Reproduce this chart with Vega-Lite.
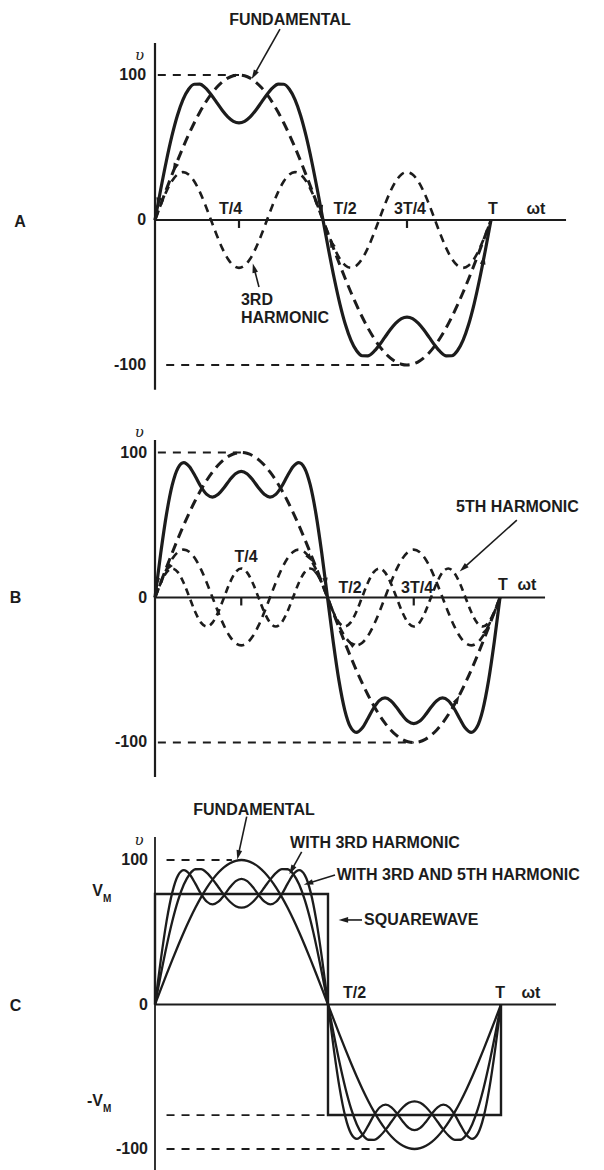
{
"$schema":"https://vega.github.io/schema/vega-lite/v6.json",
"padding":0,"spacing":0,"bounds":"flush","background":"white",
"config":{"view":{"stroke":null}},
"datasets":{
"wave":[
{"d":0,"f":0,"h3":0,"h5":0,"s3":0,"s35":0},
{"d":6,"f":10.45,"h3":10.2,"h5":10,"s3":20.65,"s35":30.65},
{"d":12,"f":20.79,"h3":19.4,"h5":17.32,"s3":40.19,"s35":57.51},
{"d":18,"f":30.9,"h3":26.7,"h5":20,"s3":57.6,"s35":77.6},
{"d":24,"f":40.67,"h3":31.39,"h5":17.32,"s3":72.06,"s35":89.38},
{"d":30,"f":50,"h3":33,"h5":10,"s3":83,"s35":93},
{"d":36,"f":58.78,"h3":31.39,"h5":0,"s3":90.17,"s35":90.17},
{"d":42,"f":66.91,"h3":26.7,"h5":-10,"s3":93.61,"s35":83.61},
{"d":48,"f":74.31,"h3":19.4,"h5":-17.32,"s3":93.71,"s35":76.39},
{"d":54,"f":80.9,"h3":10.2,"h5":-20,"s3":91.1,"s35":71.1},
{"d":60,"f":86.6,"h3":0,"h5":-17.32,"s3":86.6,"s35":69.28},
{"d":66,"f":91.35,"h3":-10.2,"h5":-10,"s3":81.15,"s35":71.15},
{"d":72,"f":95.11,"h3":-19.4,"h5":0,"s3":75.71,"s35":75.71},
{"d":78,"f":97.81,"h3":-26.7,"h5":10,"s3":71.11,"s35":81.11},
{"d":84,"f":99.45,"h3":-31.39,"h5":17.32,"s3":68.06,"s35":85.38},
{"d":90,"f":100,"h3":-33,"h5":20,"s3":67,"s35":87},
{"d":96,"f":99.45,"h3":-31.39,"h5":17.32,"s3":68.06,"s35":85.38},
{"d":102,"f":97.81,"h3":-26.7,"h5":10,"s3":71.11,"s35":81.11},
{"d":108,"f":95.11,"h3":-19.4,"h5":0,"s3":75.71,"s35":75.71},
{"d":114,"f":91.35,"h3":-10.2,"h5":-10,"s3":81.15,"s35":71.15},
{"d":120,"f":86.6,"h3":0,"h5":-17.32,"s3":86.6,"s35":69.28},
{"d":126,"f":80.9,"h3":10.2,"h5":-20,"s3":91.1,"s35":71.1},
{"d":132,"f":74.31,"h3":19.4,"h5":-17.32,"s3":93.71,"s35":76.39},
{"d":138,"f":66.91,"h3":26.7,"h5":-10,"s3":93.61,"s35":83.61},
{"d":144,"f":58.78,"h3":31.39,"h5":0,"s3":90.17,"s35":90.17},
{"d":150,"f":50,"h3":33,"h5":10,"s3":83,"s35":93},
{"d":156,"f":40.67,"h3":31.39,"h5":17.32,"s3":72.06,"s35":89.38},
{"d":162,"f":30.9,"h3":26.7,"h5":20,"s3":57.6,"s35":77.6},
{"d":168,"f":20.79,"h3":19.4,"h5":17.32,"s3":40.19,"s35":57.51},
{"d":174,"f":10.45,"h3":10.2,"h5":10,"s3":20.65,"s35":30.65},
{"d":180,"f":0,"h3":0,"h5":0,"s3":0,"s35":0},
{"d":186,"f":-10.45,"h3":-10.2,"h5":-10,"s3":-20.65,"s35":-30.65},
{"d":192,"f":-20.79,"h3":-19.4,"h5":-17.32,"s3":-40.19,"s35":-57.51},
{"d":198,"f":-30.9,"h3":-26.7,"h5":-20,"s3":-57.6,"s35":-77.6},
{"d":204,"f":-40.67,"h3":-31.39,"h5":-17.32,"s3":-72.06,"s35":-89.38},
{"d":210,"f":-50,"h3":-33,"h5":-10,"s3":-83,"s35":-93},
{"d":216,"f":-58.78,"h3":-31.39,"h5":0,"s3":-90.17,"s35":-90.17},
{"d":222,"f":-66.91,"h3":-26.7,"h5":10,"s3":-93.61,"s35":-83.61},
{"d":228,"f":-74.31,"h3":-19.4,"h5":17.32,"s3":-93.71,"s35":-76.39},
{"d":234,"f":-80.9,"h3":-10.2,"h5":20,"s3":-91.1,"s35":-71.1},
{"d":240,"f":-86.6,"h3":0,"h5":17.32,"s3":-86.6,"s35":-69.28},
{"d":246,"f":-91.35,"h3":10.2,"h5":10,"s3":-81.15,"s35":-71.15},
{"d":252,"f":-95.11,"h3":19.4,"h5":0,"s3":-75.71,"s35":-75.71},
{"d":258,"f":-97.81,"h3":26.7,"h5":-10,"s3":-71.11,"s35":-81.11},
{"d":264,"f":-99.45,"h3":31.39,"h5":-17.32,"s3":-68.06,"s35":-85.38},
{"d":270,"f":-100,"h3":33,"h5":-20,"s3":-67,"s35":-87},
{"d":276,"f":-99.45,"h3":31.39,"h5":-17.32,"s3":-68.06,"s35":-85.38},
{"d":282,"f":-97.81,"h3":26.7,"h5":-10,"s3":-71.11,"s35":-81.11},
{"d":288,"f":-95.11,"h3":19.4,"h5":0,"s3":-75.71,"s35":-75.71},
{"d":294,"f":-91.35,"h3":10.2,"h5":10,"s3":-81.15,"s35":-71.15},
{"d":300,"f":-86.6,"h3":0,"h5":17.32,"s3":-86.6,"s35":-69.28},
{"d":306,"f":-80.9,"h3":-10.2,"h5":20,"s3":-91.1,"s35":-71.1},
{"d":312,"f":-74.31,"h3":-19.4,"h5":17.32,"s3":-93.71,"s35":-76.39},
{"d":318,"f":-66.91,"h3":-26.7,"h5":10,"s3":-93.61,"s35":-83.61},
{"d":324,"f":-58.78,"h3":-31.39,"h5":0,"s3":-90.17,"s35":-90.17},
{"d":330,"f":-50,"h3":-33,"h5":-10,"s3":-83,"s35":-93},
{"d":336,"f":-40.67,"h3":-31.39,"h5":-17.32,"s3":-72.06,"s35":-89.38},
{"d":342,"f":-30.9,"h3":-26.7,"h5":-20,"s3":-57.6,"s35":-77.6},
{"d":348,"f":-20.79,"h3":-19.4,"h5":-17.32,"s3":-40.19,"s35":-57.51},
{"d":354,"f":-10.45,"h3":-10.2,"h5":-10,"s3":-20.65,"s35":-30.65},
{"d":360,"f":0,"h3":0,"h5":0,"s3":0,"s35":0}
],
"sq":[{"d":0,"v":0,"o":0},{"d":0,"v":76.5,"o":1},{"d":180,"v":76.5,"o":2},{"d":180,"v":-76.5,"o":3},{"d":360,"v":-76.5,"o":4},{"d":360,"v":0,"o":5}],
"ups":[{"d":-16.5,"v":114,"txt":"υ"}],
"axA":[{"d":0,"v":122,"d2":0,"v2":-117},{"d":0,"v":0,"d2":440.4,"v2":0},{"d":90,"v":0,"d2":90,"v2":-5.5},{"d":270,"v":0,"d2":270,"v2":-5.5}],
"refA":[{"d":3,"d2":90,"v":100},{"d":12,"d2":270,"v":-100}],
"labA":[{"d":144.6,"v":137.9,"txt":"FUNDAMENTAL"},{"d":81,"v":7.6,"txt":"T/4"},{"d":203.6,"v":7.6,"txt":"T/2"},{"d":273.2,"v":7.6,"txt":"3T/4"},{"d":362.1,"v":7.6,"txt":"T"},{"d":408.2,"v":7.6,"txt":"ωt"},{"d":-144.6,"v":-1.4,"txt":"A"}],
"leftA":[{"d":92.1,"v":-55.2,"txt":"3RD"},{"d":92.1,"v":-67.8,"txt":"HARMONIC"}],
"numA":[{"d":-9.6,"v":100,"txt":"100"},{"d":-9.6,"v":0,"txt":"0"},{"d":-9.6,"v":-100,"txt":"-100"}],
"arrA":[{"d":133.9,"v":131.7,"d2":106.1,"v2":100,"ang":209.5},{"d":111.4,"v":-46.2,"d2":106.1,"v2":-33.1,"ang":345.3}],
"chA":[{"d":3.5,"v":12.1,"ang":190.5},{"d":21,"v":35.8,"ang":202},{"d":178,"v":6.9,"ang":169.5},{"d":189,"v":-15.6,"ang":339.5},{"d":352,"v":-27.3,"ang":10.5}],
"axB":[{"d":0,"v":108.6,"d2":0,"v2":-123.8},{"d":0,"v":0,"d2":407,"v2":0},{"d":90,"v":0,"d2":90,"v2":-5.5},{"d":270,"v":0,"d2":270,"v2":-5.5}],
"refB":[{"d":3,"d2":90,"v":100},{"d":3,"d2":270,"v":-100}],
"labB":[{"d":95,"v":28.1,"txt":"T/4"},{"d":203.5,"v":6.3,"txt":"T/2"},{"d":273.4,"v":6.3,"txt":"3T/4"},{"d":363.1,"v":8.6,"txt":"T"},{"d":388.2,"v":8.6,"txt":"ωt"},{"d":378.2,"v":62.6,"txt":"5TH HARMONIC"},{"d":-145.6,"v":0,"txt":"B"}],
"numB":[{"d":-8.3,"v":100,"txt":"100"},{"d":-8.3,"v":0,"txt":"0"},{"d":-8.3,"v":-100,"txt":"-100"}],
"arrB":[{"d":377.6,"v":53.4,"d2":321.6,"v2":20.1,"ang":228.3}],
"chB":[{"d":2,"v":10.4,"ang":187},{"d":13.6,"v":20.3,"ang":215},{"d":161.7,"v":27,"ang":146},{"d":170,"v":15.3,"ang":160},{"d":178,"v":10.4,"ang":172},{"d":204,"v":-31.4,"ang":309},{"d":315.5,"v":-70.1,"ang":28},{"d":345.8,"v":-22.3,"ang":27.5}],
"axC":[{"d":0,"v":115.9,"d2":0,"v2":-114.5},{"d":0,"v":0,"d2":417.2,"v2":0}],
"refC":[{"d":12,"d2":80,"v":100},{"d":12,"d2":180,"v":-76.5},{"d":12,"d2":245,"v":-100}],
"labC":[{"d":103,"v":134.7,"txt":"FUNDAMENTAL"},{"d":228.9,"v":111.6,"txt":"WITH 3RD HARMONIC"},{"d":207.6,"v":8,"txt":"T/2"},{"d":359,"v":8,"txt":"T"},{"d":391.2,"v":8,"txt":"ωt"},{"d":-145.1,"v":-1,"txt":"C"}],
"leftC":[{"d":189.1,"v":89.6,"txt":"WITH 3RD AND 5TH HARMONIC"},{"d":217.5,"v":58.5,"txt":"SQUAREWAVE"}],
"numC":[{"d":-7.3,"v":100,"txt":"100"},{"d":-7.3,"v":0,"txt":"0"},{"d":-7.3,"v":-100,"txt":"-100"},{"d":-54.1,"v":78.5,"txt":"V"},{"d":-54.1,"v":-66.8,"txt":"-V"}],
"subC":[{"d":-54.1,"v":73,"txt":"M"},{"d":-54.1,"v":-72,"txt":"M"}],
"arrC":[{"d":95.4,"v":130,"d2":86.7,"v2":103.5,"ang":192.4},{"d":152.6,"v":105.7,"d2":142.2,"v2":93.1,"ang":208.7},{"d":187.3,"v":89.6,"d2":159.5,"v2":83.9,"ang":252.7},{"d":215.4,"v":58.5,"d2":196,"v2":58.5,"ang":270}]
},
"vconcat":[
{
"width":604,"height":400,
"encoding":{"x":{"field":"d","type":"quantitative","scale":{"domain":[-166.07,481.07],"nice":false,"zero":false},"axis":null},"y":{"field":"v","type":"quantitative","scale":{"domain":[-124.14,151.72],"nice":false,"zero":false},"axis":null}},
"layer":[
{"data":{"name":"axA"},"mark":{"type":"rule","strokeWidth":2.2,"color":"#1c1c1c"},"encoding":{"x2":{"field":"d2"},"y2":{"field":"v2"}}},
{"data":{"name":"refA"},"mark":{"type":"rule","strokeWidth":1.8,"strokeDash":[8,7],"color":"#1c1c1c"},"encoding":{"x2":{"field":"d2"}}},
{"data":{"name":"wave"},"mark":{"type":"line","interpolate":"monotone","strokeWidth":3,"strokeDash":[10,6],"color":"#1c1c1c"},"encoding":{"y":{"field":"f","type":"quantitative","scale":{"domain":[-124.14,151.72],"nice":false,"zero":false},"axis":null}}},
{"data":{"name":"wave"},"mark":{"type":"line","interpolate":"monotone","strokeWidth":2.6,"strokeDash":[8,6],"color":"#1c1c1c"},"encoding":{"y":{"field":"h3","type":"quantitative","scale":{"domain":[-124.14,151.72],"nice":false,"zero":false},"axis":null}}},
{"data":{"name":"wave"},"mark":{"type":"line","interpolate":"monotone","strokeWidth":3.2,"color":"#1c1c1c"},"encoding":{"y":{"field":"s3","type":"quantitative","scale":{"domain":[-124.14,151.72],"nice":false,"zero":false},"axis":null}}},
{"data":{"name":"labA"},"mark":{"type":"text","font":"Liberation Sans","fontWeight":"bold","fontSize":16,"align":"center","baseline":"middle","color":"#1c1c1c"},"encoding":{"text":{"field":"txt"}}},
{"data":{"name":"leftA"},"mark":{"type":"text","font":"Liberation Sans","fontWeight":"bold","fontSize":16,"align":"left","baseline":"middle","color":"#1c1c1c"},"encoding":{"text":{"field":"txt"}}},
{"data":{"name":"numA"},"mark":{"type":"text","font":"Liberation Sans","fontWeight":"bold","fontSize":16,"align":"right","baseline":"middle","color":"#1c1c1c"},"encoding":{"text":{"field":"txt"}}},
{"data":{"name":"ups"},"mark":{"type":"text","font":"DejaVu Serif","fontStyle":"italic","fontSize":15,"align":"center","baseline":"middle","color":"#1c1c1c"},"encoding":{"text":{"field":"txt"}}},
{"data":{"name":"arrA"},"mark":{"type":"rule","strokeWidth":1.6,"color":"#1c1c1c"},"encoding":{"x2":{"field":"d2"},"y2":{"field":"v2"}}},
{"data":{"name":"arrA"},"mark":{"type":"point","shape":"M0,-1L0.6,1L-0.6,1Z","filled":true,"opacity":1,"size":90,"color":"#1c1c1c"},"encoding":{"x":{"field":"d2","type":"quantitative","scale":{"domain":[-166.07,481.07],"nice":false,"zero":false},"axis":null},"y":{"field":"v2","type":"quantitative","scale":{"domain":[-124.14,151.72],"nice":false,"zero":false},"axis":null},"angle":{"field":"ang","type":"quantitative","scale":null}}},
{"data":{"name":"chA"},"mark":{"type":"point","shape":"M0,-1L0.6,1L-0.6,1Z","filled":true,"opacity":1,"size":90,"color":"#1c1c1c"},"encoding":{"angle":{"field":"ang","type":"quantitative","scale":null}}}
]
},
{
"width":604,"height":390,
"encoding":{"x":{"field":"d","type":"quantitative","scale":{"domain":[-161.74,468.52],"nice":false,"zero":false},"axis":null},"y":{"field":"v","type":"quantitative","scale":{"domain":[-132.76,136.21],"nice":false,"zero":false},"axis":null}},
"layer":[
{"data":{"name":"axB"},"mark":{"type":"rule","strokeWidth":2.2,"color":"#1c1c1c"},"encoding":{"x2":{"field":"d2"},"y2":{"field":"v2"}}},
{"data":{"name":"refB"},"mark":{"type":"rule","strokeWidth":1.8,"strokeDash":[8,7],"color":"#1c1c1c"},"encoding":{"x2":{"field":"d2"}}},
{"data":{"name":"wave"},"mark":{"type":"line","interpolate":"monotone","strokeWidth":3,"strokeDash":[10,6],"color":"#1c1c1c"},"encoding":{"y":{"field":"f","type":"quantitative","scale":{"domain":[-132.76,136.21],"nice":false,"zero":false},"axis":null}}},
{"data":{"name":"wave"},"mark":{"type":"line","interpolate":"monotone","strokeWidth":2.6,"strokeDash":[8,6],"color":"#1c1c1c"},"encoding":{"y":{"field":"h3","type":"quantitative","scale":{"domain":[-132.76,136.21],"nice":false,"zero":false},"axis":null}}},
{"data":{"name":"wave"},"mark":{"type":"line","interpolate":"monotone","strokeWidth":2.6,"strokeDash":[7,5],"color":"#1c1c1c"},"encoding":{"y":{"field":"h5","type":"quantitative","scale":{"domain":[-132.76,136.21],"nice":false,"zero":false},"axis":null}}},
{"data":{"name":"wave"},"mark":{"type":"line","interpolate":"monotone","strokeWidth":3.2,"color":"#1c1c1c"},"encoding":{"y":{"field":"s35","type":"quantitative","scale":{"domain":[-132.76,136.21],"nice":false,"zero":false},"axis":null}}},
{"data":{"name":"labB"},"mark":{"type":"text","font":"Liberation Sans","fontWeight":"bold","fontSize":16,"align":"center","baseline":"middle","color":"#1c1c1c"},"encoding":{"text":{"field":"txt"}}},
{"data":{"name":"numB"},"mark":{"type":"text","font":"Liberation Sans","fontWeight":"bold","fontSize":16,"align":"right","baseline":"middle","color":"#1c1c1c"},"encoding":{"text":{"field":"txt"}}},
{"data":{"name":"ups"},"mark":{"type":"text","font":"DejaVu Serif","fontStyle":"italic","fontSize":15,"align":"center","baseline":"middle","color":"#1c1c1c"},"encoding":{"text":{"field":"txt"}}},
{"data":{"name":"arrB"},"mark":{"type":"rule","strokeWidth":1.6,"color":"#1c1c1c"},"encoding":{"x2":{"field":"d2"},"y2":{"field":"v2"}}},
{"data":{"name":"arrB"},"mark":{"type":"point","shape":"M0,-1L0.6,1L-0.6,1Z","filled":true,"opacity":1,"size":90,"color":"#1c1c1c"},"encoding":{"x":{"field":"d2","type":"quantitative","scale":{"domain":[-161.74,468.52],"nice":false,"zero":false},"axis":null},"y":{"field":"v2","type":"quantitative","scale":{"domain":[-132.76,136.21],"nice":false,"zero":false},"axis":null},"angle":{"field":"ang","type":"quantitative","scale":null}}},
{"data":{"name":"chB"},"mark":{"type":"point","shape":"M0,-1L0.6,1L-0.6,1Z","filled":true,"opacity":1,"size":80,"color":"#1c1c1c"},"encoding":{"angle":{"field":"ang","type":"quantitative","scale":null}}}
]
},
{
"width":604,"height":380,
"encoding":{"x":{"field":"d","type":"quantitative","scale":{"domain":[-161.27,467.17],"nice":false,"zero":false},"axis":null},"y":{"field":"v","type":"quantitative","scale":{"domain":[-114.53,148.44],"nice":false,"zero":false},"axis":null}},
"layer":[
{"data":{"name":"axC"},"mark":{"type":"rule","strokeWidth":1.8,"color":"#1c1c1c"},"encoding":{"x2":{"field":"d2"},"y2":{"field":"v2"}}},
{"data":{"name":"refC"},"mark":{"type":"rule","strokeWidth":1.8,"strokeDash":[8,7],"color":"#1c1c1c"},"encoding":{"x2":{"field":"d2"}}},
{"data":{"name":"sq"},"mark":{"type":"line","strokeWidth":2.4,"color":"#1c1c1c"},"encoding":{"order":{"field":"o","type":"quantitative"}}},
{"data":{"name":"wave"},"mark":{"type":"line","interpolate":"monotone","strokeWidth":2.3,"color":"#1c1c1c"},"encoding":{"y":{"field":"f","type":"quantitative","scale":{"domain":[-114.53,148.44],"nice":false,"zero":false},"axis":null}}},
{"data":{"name":"wave"},"mark":{"type":"line","interpolate":"monotone","strokeWidth":2.3,"color":"#1c1c1c"},"encoding":{"y":{"field":"s3","type":"quantitative","scale":{"domain":[-114.53,148.44],"nice":false,"zero":false},"axis":null}}},
{"data":{"name":"wave"},"mark":{"type":"line","interpolate":"monotone","strokeWidth":2.3,"color":"#1c1c1c"},"encoding":{"y":{"field":"s35","type":"quantitative","scale":{"domain":[-114.53,148.44],"nice":false,"zero":false},"axis":null}}},
{"data":{"name":"labC"},"mark":{"type":"text","font":"Liberation Sans","fontWeight":"bold","fontSize":16,"align":"center","baseline":"middle","color":"#1c1c1c"},"encoding":{"text":{"field":"txt"}}},
{"data":{"name":"leftC"},"mark":{"type":"text","font":"Liberation Sans","fontWeight":"bold","fontSize":16,"align":"left","baseline":"middle","color":"#1c1c1c"},"encoding":{"text":{"field":"txt"}}},
{"data":{"name":"numC"},"mark":{"type":"text","font":"Liberation Sans","fontWeight":"bold","fontSize":16,"align":"right","baseline":"middle","color":"#1c1c1c"},"encoding":{"text":{"field":"txt"}}},
{"data":{"name":"subC"},"mark":{"type":"text","font":"Liberation Sans","fontWeight":"bold","fontSize":10,"align":"left","baseline":"middle","color":"#1c1c1c"},"encoding":{"text":{"field":"txt"}}},
{"data":{"name":"ups"},"mark":{"type":"text","font":"DejaVu Serif","fontStyle":"italic","fontSize":15,"align":"center","baseline":"middle","color":"#1c1c1c"},"encoding":{"text":{"field":"txt"}}},
{"data":{"name":"arrC"},"mark":{"type":"rule","strokeWidth":1.6,"color":"#1c1c1c"},"encoding":{"x2":{"field":"d2"},"y2":{"field":"v2"}}},
{"data":{"name":"arrC"},"mark":{"type":"point","shape":"M0,-1L0.6,1L-0.6,1Z","filled":true,"opacity":1,"size":90,"color":"#1c1c1c"},"encoding":{"x":{"field":"d2","type":"quantitative","scale":{"domain":[-161.27,467.17],"nice":false,"zero":false},"axis":null},"y":{"field":"v2","type":"quantitative","scale":{"domain":[-114.53,148.44],"nice":false,"zero":false},"axis":null},"angle":{"field":"ang","type":"quantitative","scale":null}}}
]
}
]
}
